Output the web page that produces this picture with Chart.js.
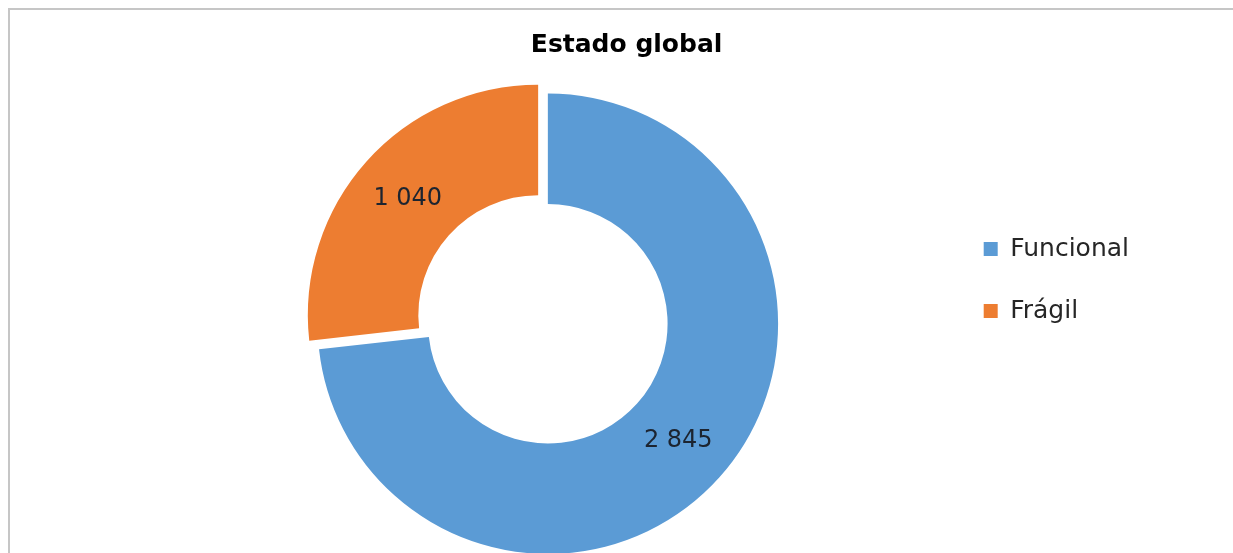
<!DOCTYPE html>
<html lang="es">
<head>
  <meta charset="UTF-8" />
  <title>Estado global</title>
  <style>
    * {
      margin: 0;
      padding: 0;
    }

    body {
      width: 1233px;
      height: 553px;
      overflow: hidden;
      background: #ffffff;
      position: relative;
    }

    .frame {
      position: absolute;
      left: 8px;
      top: 8px;
      width: 1300px;
      height: 700px;
      border-top: 2px solid #c6c6c6;
      border-left: 2px solid #c6c6c6;
    }

    .chartBox {
      position: absolute;
      left: 0;
      top: -20px;
      width: 1233px;
      height: 600px;
    }
  </style>
</head>

<body>
  <div class="frame"></div>
  <div class="chartBox">
    <canvas id="myChart"></canvas>
  </div>
  <script src="https://cdn.jsdelivr.net/npm/chart.js@4/dist/chart.umd.min.js"></script>
  <script>
    const labels = ["Funcional", "Frágil"];
    const values = [2845, 1040];
    const colors = ["#5b9bd5", "#ed7d31"];

    Chart.defaults.font.family = "'DejaVu Sans', Verdana, sans-serif";

    function withSpaces(v) {
      return String(v).replace(/\B(?=(\d{3})+(?!\d))/g, " ");
    }

    // value labels in the middle of each ring segment
    const sliceLabels = {
      id: "sliceLabels",
      afterDatasetsDraw(chart) {
        const ctx = chart.ctx;
        const meta = chart.getDatasetMeta(0);
        ctx.save();
        ctx.font = "24px 'DejaVu Sans', Verdana, sans-serif";
        ctx.fillStyle = "#1c2430";
        ctx.textAlign = "center";
        ctx.textBaseline = "middle";
        meta.data.forEach((arc, i) => {
          const p = arc.getProps(["x", "y", "startAngle", "endAngle", "innerRadius", "outerRadius"]);
          const mid = (p.startAngle + p.endAngle) / 2;
          // arcs are drawn shifted by offset / 4
          const r = (p.innerRadius + p.outerRadius) / 2 + (arc.options.offset || 0) / 4;
          ctx.fillText(withSpaces(values[i]), p.x + Math.cos(mid) * r, p.y + Math.sin(mid) * r);
        });
        ctx.restore();
      },
    };

    const data = {
      labels: labels,
      datasets: [
        {
          data: values,
          backgroundColor: colors,
          borderWidth: 0,
          offset: [0, 52],
          hoverOffset: 0,
        },
      ],
    };

    const options = {
      responsive: true,
      maintainAspectRatio: false,
      animation: false,
      cutout: "52%",
      layout: {
        padding: { left: 149, right: 94, top: 0, bottom: 0 },
      },
      plugins: {
        title: {
          display: true,
          text: "Estado global    ",
          color: "#000000",
          font: { size: 25, weight: "bold" },
          padding: { top: 50, bottom: 7.5 },
        },
        legend: {
          position: "right",
          labels: {
            color: "#262626",
            boxWidth: 14,
            boxHeight: 14,
            padding: 37,
            font: { size: 25 },
          },
        },
        tooltip: { enabled: false },
      },
    };

    const config = {
      type: "doughnut",
      data: data,
      options: options,
      plugins: [sliceLabels],
    };

    const ctx = document.getElementById("myChart").getContext("2d");
    const myChart = new Chart(ctx, config);
  </script>
</body>
</html>
